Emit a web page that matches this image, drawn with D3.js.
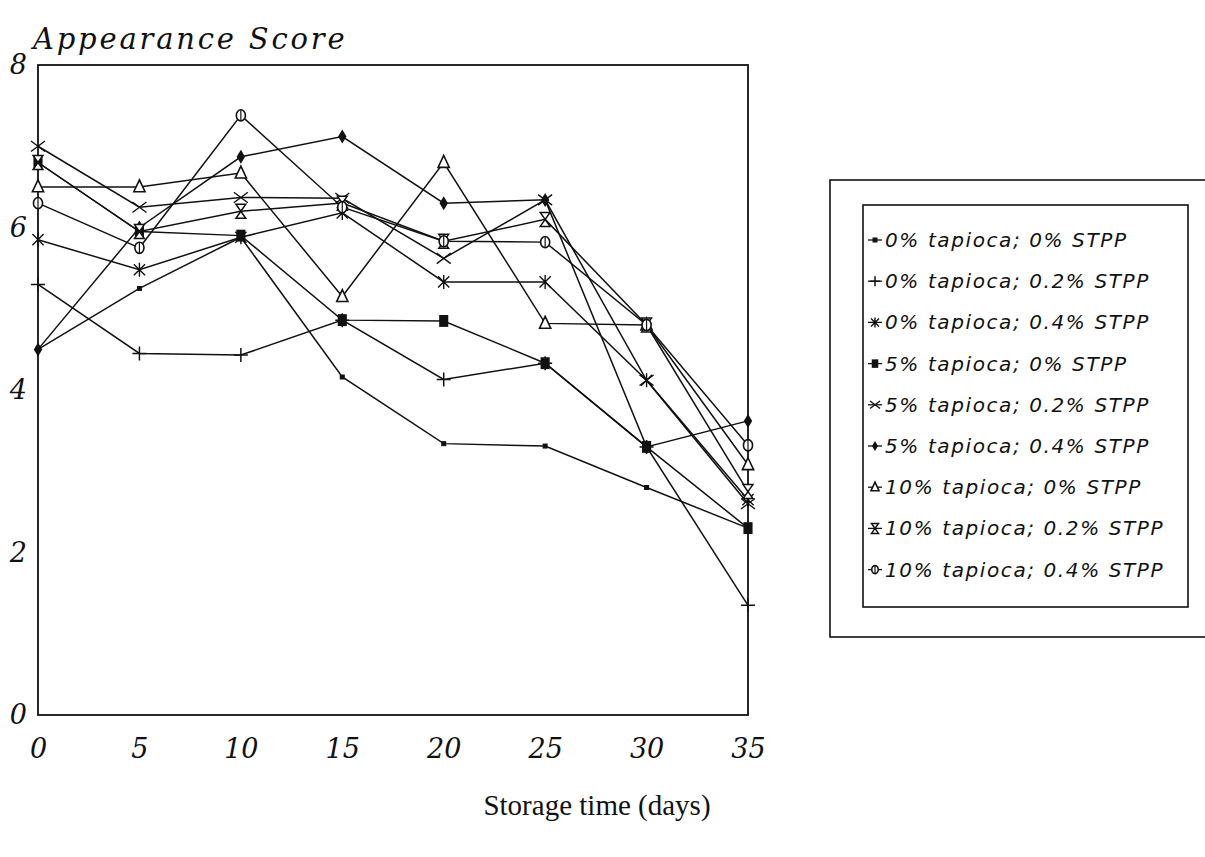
<!DOCTYPE html>
<html>
<head>
<meta charset="utf-8">
<script src="https://cdn.jsdelivr.net/npm/d3@7"></script>
<style>
  body { margin: 0; background: #fff; }
  svg { display: block; }
</style>
</head>
<body>
<div id="chart"></div>
<script>
// storage days on the x axis
var days = [0, 5, 10, 15, 20, 25, 30, 35];
var yTicks = [0, 2, 4, 6, 8];

var seriesNames = [
    "0% tapioca; 0% STPP",
    "0% tapioca; 0.2% STPP",
    "0% tapioca; 0.4% STPP",
    "5% tapioca; 0% STPP",
    "5% tapioca; 0.2% STPP",
    "5% tapioca; 0.4% STPP",
    "10% tapioca; 0% STPP",
    "10% tapioca; 0.2% STPP",
    "10% tapioca; 0.4% STPP"
];

// appearance scores
var t0s0 = [4.5, 5.25, 5.88, 4.16, 3.34, 3.31, 2.8, 2.3];
var t0s2 = [5.3, 4.45, 4.43, 4.86, 4.13, 4.33, 3.3, 1.35];
var t0s4 = [5.85, 5.48, 5.88, 6.18, 5.33, 5.33, 4.12, 2.65];
var t5s0 = [6.8, 5.95, 5.9, 4.86, 4.85, 4.33, 3.3, 2.3];
var t5s2 = [7.0, 6.25, 6.37, 6.36, 5.62, 6.34, 4.12, 2.6];
var t5s4 = [4.5, 6.0, 6.87, 7.12, 6.3, 6.34, 3.3, 3.62];
var t10s0 = [6.5, 6.5, 6.67, 5.15, 6.8, 4.82, 4.8, 3.08];
var t10s2 = [6.8, 5.95, 6.2, 6.3, 5.83, 6.1, 4.8, 2.75];
var t10s4 = [6.3, 5.75, 7.38, 6.25, 5.83, 5.82, 4.8, 3.32];

var seriesValues = [t0s0, t0s2, t0s4, t5s0, t5s2, t5s4, t10s0, t10s2, t10s4];
var markerTypes = ["dot", "plus", "asterisk", "square", "times", "diamond", "triangle", "hourglass", "circle"];

var svgWidth = 1205;
var svgHeight = 857;

var svg = d3.select("#chart")
    .append("svg")
    .attr("width", svgWidth)
    .attr("height", svgHeight);

var x = d3.scaleLinear().domain([0, 35]).range([38, 748]);
var y = d3.scaleLinear().domain([0, 8]).range([715, 65]);

var tickFont = "'DejaVu Serif', serif";

// marker shapes, drawn around 0,0
function drawMarker(g, type, s) {
    if (type == "dot") {
        g.append("rect").attr("x", -2.5).attr("y", -2.5).attr("width", 5).attr("height", 5)
            .attr("fill", "#111");
    } else if (type == "plus") {
        g.append("path").attr("d", `M${-s},0H${s}M0,${-s}V${s}`)
            .attr("stroke", "#111").attr("stroke-width", 1.5).attr("fill", "none");
    } else if (type == "asterisk") {
        var a = s * 0.8;
        g.append("path").attr("d", `M0,${-s}V${s}M${-a},${-a}L${a},${a}M${-a},${a}L${a},${-a}`)
            .attr("stroke", "#111").attr("stroke-width", 1.4).attr("fill", "none");
    } else if (type == "times") {
        g.append("path").attr("d", `M${-s},${-s * 0.75}L${s},${s * 0.75}M${-s},${s * 0.75}L${s},${-s * 0.75}`)
            .attr("stroke", "#111").attr("stroke-width", 1.4).attr("fill", "none");
    } else if (type == "square") {
        g.append("rect").attr("x", -s * 0.65).attr("y", -s * 0.85).attr("width", s * 1.3).attr("height", s * 1.7)
            .attr("fill", "#111");
    } else if (type == "diamond") {
        g.append("path").attr("d", `M0,${-s}L${s * 0.6},0L0,${s}L${-s * 0.6},0Z`)
            .attr("fill", "#111");
    } else if (type == "triangle") {
        g.append("path").attr("d", `M0,${-s}L${s * 0.8},${s * 0.7}L${-s * 0.8},${s * 0.7}Z`)
            .attr("stroke", "#111").attr("stroke-width", 1.6).attr("fill", "#fff");
    } else if (type == "hourglass") {
        g.append("path").attr("d", `M${-s * 0.7},${-s}L${s * 0.7},${-s}L${-s * 0.7},${s}L${s * 0.7},${s}Z`)
            .attr("stroke", "#111").attr("stroke-width", 1.5).attr("fill", "#fff");
    } else if (type == "circle") {
        g.append("ellipse").attr("rx", s * 0.65).attr("ry", s * 0.8)
            .attr("stroke", "#111").attr("stroke-width", 1.6).attr("fill", "#fff");
        g.append("path").attr("d", `M0,${-s * 0.8}V${s * 0.8}`)
            .attr("stroke", "#111").attr("stroke-width", 1.2);
    }
}

// plot frame
svg.append("rect")
    .attr("x", x(0))
    .attr("y", y(8))
    .attr("width", x(35) - x(0))
    .attr("height", y(0) - y(8))
    .attr("fill", "none")
    .attr("stroke", "#111")
    .attr("stroke-width", 1.8);

var bottomAxis = d3.axisBottom(x).tickValues(days).tickSize(0).tickPadding(24);
var leftAxis = d3.axisLeft(y).tickValues(yTicks).tickSize(0).tickPadding(11);

var gx = svg.append("g")
    .attr("transform", `translate(0, ${y(0)})`)
    .call(bottomAxis);
gx.select(".domain").remove();
gx.selectAll("text")
    .style("font-family", tickFont)
    .style("font-style", "italic")
    .style("font-size", "27px")
    .attr("fill", "#111");

var gy = svg.append("g")
    .attr("transform", `translate(${x(0)}, 0)`)
    .call(leftAxis);
gy.select(".domain").remove();
gy.selectAll("text")
    .style("font-family", tickFont)
    .style("font-style", "italic")
    .style("font-size", "27px")
    .attr("fill", "#111");

// lines
var line = d3.line()
    .x((d, i) => x(days[i]))
    .y(d => y(d));

seriesValues.forEach(function(vals) {
    svg.append("path")
        .attr("d", line(vals))
        .attr("fill", "none")
        .attr("stroke", "#111")
        .attr("stroke-width", 1.5);
});

// markers
seriesValues.forEach(function(vals, k) {
    vals.forEach(function(v, i) {
        var g = svg.append("g").attr("transform", `translate(${x(days[i])}, ${y(v)})`);
        drawMarker(g, markerTypes[k], 7);
    });
});

// titles
svg.append("text")
    .attr("x", 33)
    .attr("y", 49)
    .style("font-family", tickFont)
    .style("font-style", "italic")
    .style("font-size", "29px")
    .style("letter-spacing", "2.8px")
    .attr("fill", "#111")
    .text("Appearance Score");

svg.append("text")
    .attr("x", 597)
    .attr("y", 815)
    .attr("text-anchor", "middle")
    .style("font-family", "'Liberation Serif', serif")
    .style("font-size", "29px")
    .attr("fill", "#111")
    .text("Storage time (days)");

// legend
svg.append("rect")
    .attr("x", 830).attr("y", 180).attr("width", 420).attr("height", 457)
    .attr("fill", "none").attr("stroke", "#111").attr("stroke-width", 1.6);
svg.append("rect")
    .attr("x", 863).attr("y", 205).attr("width", 325).attr("height", 402)
    .attr("fill", "none").attr("stroke", "#111").attr("stroke-width", 1.6);

var legend = svg.selectAll(".legend-item")
    .data(seriesNames)
    .enter()
    .append("g")
    .attr("class", "legend-item")
    .attr("transform", (d, i) => `translate(875, ${240 + i * 41.2})`);

legend.append("line")
    .attr("x1", -7).attr("x2", 7)
    .attr("stroke", "#111").attr("stroke-width", 1.3);

legend.each(function(d, i) {
    drawMarker(d3.select(this), markerTypes[i], 5);
});

legend.append("text")
    .attr("x", 10)
    .attr("dy", "0.35em")
    .style("font-family", "'DejaVu Sans', sans-serif")
    .style("font-style", "italic")
    .style("font-size", "20px")
    .style("letter-spacing", "1.6px")
    .attr("fill", "#111")
    .text(d => d);
</script>
</body>
</html>
